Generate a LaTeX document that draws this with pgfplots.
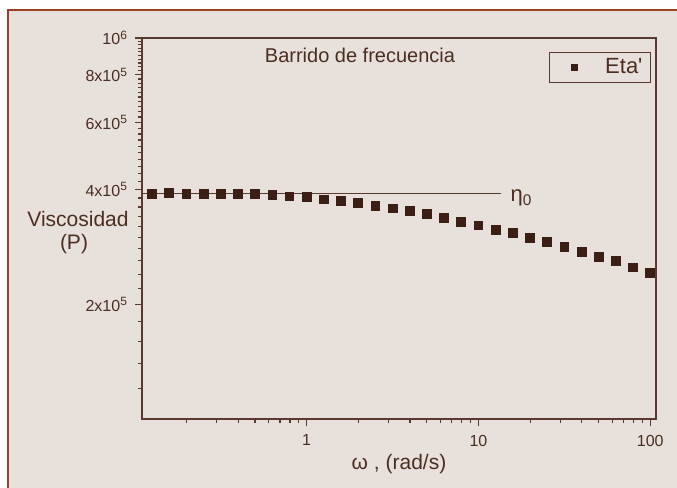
\documentclass[border=0pt]{standalone}
\usepackage{fontspec}
\setmainfont{Liberation Sans}
\newfontfamily\nolig{Liberation Sans}
\usepackage{pgfplots}
\pgfplotsset{compat=1.18}
\definecolor{bg}{HTML}{E8E0DA}
\definecolor{framec}{HTML}{9A4024}
\definecolor{axisc}{HTML}{5A3A2E}
\definecolor{textc}{HTML}{4B2E22}
\definecolor{markc}{HTML}{3B1E14}
\begin{document}
\begin{tikzpicture}
\useasboundingbox (0,0) rectangle (338.5pt,244pt);
\fill[white] (0,0) rectangle (338.5pt,244pt);
\fill[bg] (4pt,0) rectangle (338.5pt,239pt);
\draw[framec, line width=1pt] (4pt,0) -- (4pt,239pt) -- (338.5pt,239pt);
\begin{axis}[
  at={(71pt,34.5pt)}, anchor=south west,
  scale only axis, width=257pt, height=190.5pt,
  xmode=log, ymode=log,
  xmin=0.11, xmax=108, ymin=1e5, ymax=1e6,
  axis line style={axisc, line width=0.8pt},
  tick align=outside, xtick pos=bottom, ytick pos=left,
  major tick length=3.5pt, minor tick length=2pt,
  every tick/.style={axisc, line width=0.6pt},
  xtick={1,10,100}, xticklabels={1,10,100},
  minor xtick={0.2,0.3,0.4,0.5,0.6,0.7,0.8,0.9,2,3,4,5,6,7,8,9,20,30,40,50,60,70,80,90},
  ytick={2e5,4e5,6e5,8e5,1e6},
  yticklabels={2x10\textsuperscript{5},4x10\textsuperscript{5},6x10\textsuperscript{5},8x10\textsuperscript{5},10\textsuperscript{6}},
  minor ytick={1.2e5,1.4e5,1.6e5,1.8e5,2.2e5,2.4e5,2.6e5,2.8e5,3e5,3.2e5,3.4e5,3.6e5,3.8e5,4.2e5,4.4e5,4.6e5,4.8e5,5e5,5.2e5,5.4e5,5.6e5,5.8e5,6.2e5,6.4e5,6.6e5,6.8e5,7e5,7.2e5,7.4e5,7.6e5,7.8e5,8.2e5,8.4e5,8.6e5,8.8e5,9e5,9.2e5,9.4e5,9.6e5,9.8e5},
  tick label style={font=\fontsize{8}{10}\selectfont, text=textc},
  xticklabel style={yshift=-1pt},
  legend style={at={(0.99,0.963)}, anchor=north east, draw=axisc, fill=bg,
    font=\fontsize{11}{12}\selectfont, text=textc, inner xsep=2pt, inner ysep=1pt},
  legend cell align=left,
  legend image code/.code={%
    \path[draw=none] (0pt,0pt) -- (24pt,0pt);
    \fill[markc, draw=none] (9pt,-1.8pt) rectangle (12.6pt,1.8pt);},
]
\addplot[axisc, line width=0.6pt, forget plot] coordinates {(0.11,3.91e5) (13.5,3.91e5)};
\addplot[only marks, mark=square*, mark size=2.2pt, color=markc] coordinates {
(0.1259,3.90e5) (0.1585,3.92e5) (0.1995,3.90e5) (0.2512,3.90e5) (0.3162,3.90e5)
(0.3981,3.90e5) (0.5012,3.90e5) (0.6310,3.87e5) (0.7943,3.84e5) (1,3.83e5)
(1.259,3.77e5) (1.585,3.73e5) (1.995,3.69e5) (2.512,3.63e5) (3.162,3.57e5)
(3.981,3.51e5) (5.012,3.46e5) (6.310,3.37e5) (7.943,3.29e5) (10,3.22e5)
(12.59,3.14e5) (15.85,3.08e5) (19.95,2.99e5) (25.12,2.92e5) (31.62,2.83e5)
(39.81,2.74e5) (50.12,2.66e5) (63.10,2.60e5) (79.43,2.50e5) (100,2.42e5)};
\addlegendentry{{\nolig Eta'}}
\node[anchor=west, text=textc, font=\fontsize{11}{12}\selectfont] at (axis cs:14,3.80e5) {η\textsubscript{0}};
\end{axis}
\node[anchor=base, text=textc, font=\fontsize{10}{12}\selectfont] at (180pt,212.8pt) {Barrido de frecuencia};
\node[anchor=base, text=textc, font=\fontsize{10.5}{12}\selectfont] at (39pt,130.5pt) {Viscosidad};
\node[anchor=base, text=textc, font=\fontsize{10.5}{12}\selectfont] at (37pt,119pt) {(P)};
\node[anchor=base, text=textc, font=\fontsize{10.5}{12}\selectfont] at (199.5pt,9pt) {ω , (rad/s)};
\end{tikzpicture}
\end{document}
